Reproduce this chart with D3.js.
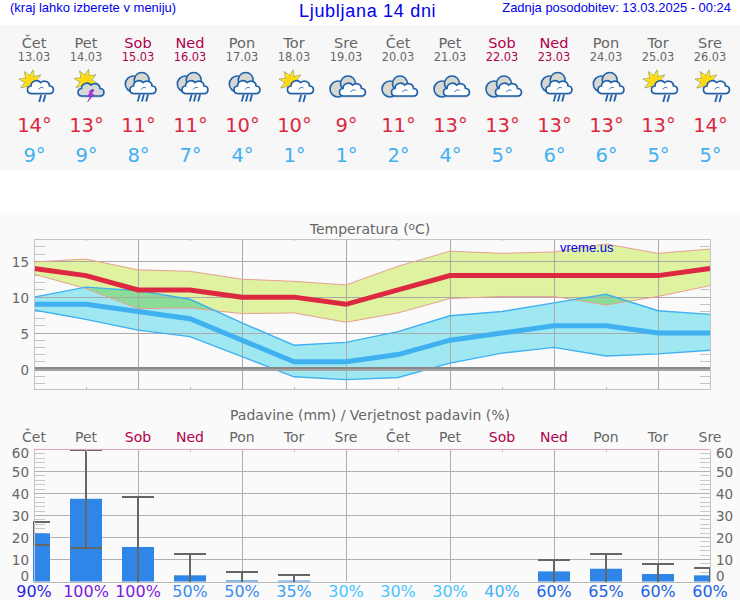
<!DOCTYPE html>
<html><head><meta charset="utf-8">
<script src="https://cdn.jsdelivr.net/npm/d3@7"></script>
<style>
html,body{margin:0;padding:0;background:#fff;overflow:hidden}
svg{display:block}
text{font-family:"DejaVu Sans",sans-serif}
.arial{font-family:"Liberation Sans",Arial,sans-serif}
line{shape-rendering:crispEdges}
</style></head><body>
<svg id="c" width="740" height="600"></svg>
<script>
const dayNames=["Čet","Pet","Sob","Ned","Pon","Tor","Sre","Čet","Pet","Sob","Ned","Pon","Tor","Sre"];
const dates=["13.03","14.03","15.03","16.03","17.03","18.03","19.03","20.03","21.03","22.03","23.03","24.03","25.03","26.03"];
const icons=["sunrain","sunstorm","cloudrain","cloudrain","cloudrain","sunrain","cloud","cloud","cloud","cloud","cloudrain","cloudrain","sunrain","sunrain"];
const tempHigh=[14,13,11,11,10,10,9,11,13,13,13,13,13,14];
const tempLow=[9,9,8,7,4,1,1,2,4,5,6,6,5,5];
const highUpper=[14.9,15.3,13.8,13.6,12.5,12.2,11.7,14.3,16.4,16.1,16.3,17.4,16.1,16.7];
const highLower=[13.2,11.2,8.4,8.5,7.7,7.8,6.5,7.8,9.8,10.1,10.1,8.9,10.1,11.6];
const lowUpper=[10.0,11.4,10.9,9.7,6.4,3.3,3.7,5.2,7.4,8.0,9.2,10.4,8.1,7.6];
const lowLower=[8.2,6.9,5.4,4.5,1.7,-1.1,-1.5,-1.2,0.8,2.2,3.0,1.8,2.1,2.6];
const precip=[21.9,37.6,15.7,2.8,0.5,0.4,0,0,0,0,4.6,5.8,3.4,2.8];
const precipHigh=[27.2,59.8,38.5,12.4,4.5,3,0,0,0,0,10,12.5,8,6];
const precipLow=[16.5,15.4,0,0,0,0,0,0,0,0,0,0,0,0];
const probability=[90,100,100,50,50,35,30,30,30,40,60,65,60,60];
const tempTicks=[0,5,10,15];
const precipTicks=[0,10,20,30,40,50,60];

const svg=d3.select("#c");
const idx=d3.range(dayNames.length);
const x=d3.scaleLinear().domain([0,13]).range([34,710]);
const yT=d3.scaleLinear().domain([-2.8,18.1]).range([389,239]);
const yP=d3.scaleLinear().domain([0,60]).range([581.5,449.5]);
const GREY="#666",WEEK="#b0004e";
const dayColor=i=>(dayNames[i]==="Sob"||dayNames[i]==="Ned")?WEEK:GREY;

// backgrounds
svg.append("rect").attr("x",0).attr("y",25).attr("width",740).attr("height",145).attr("fill","#f7f7f7");
svg.append("rect").attr("x",0).attr("y",215).attr("width",740).attr("height",385).attr("fill","#fafafa");

// top strip
svg.append("text").attr("class","arial").attr("x",10).attr("y",12).attr("font-size",13).attr("fill","#0000ee").text("(kraj lahko izberete v meniju)");
svg.append("text").attr("class","arial").attr("x",299).attr("y",16.5).attr("font-size",18).attr("letter-spacing",.7).attr("fill","#0000ee").text("Ljubljana 14 dni");
svg.append("text").attr("class","arial").attr("x",731).attr("y",12).attr("text-anchor","end").attr("font-size",12.95).attr("fill","#0000ee").text("Zadnja posodobitev: 13.03.2025 - 00:24");

// header columns
const col=svg.append("g").selectAll("g").data(idx).join("g");
col.append("text").attr("x",x).attr("y",48).attr("text-anchor","middle").attr("font-size",14.5).attr("fill",dayColor).text(i=>dayNames[i]);
col.append("text").attr("x",x).attr("y",60.5).attr("text-anchor","middle").attr("font-size",11.4).attr("fill",dayColor).text(i=>dates[i]);
col.append("text").attr("x",i=>x(i)+.5).attr("y",132).attr("text-anchor","middle").attr("font-size",19.5).attr("fill","#dc2840").text(i=>tempHigh[i]+"°");
col.append("text").attr("x",i=>x(i)+.5).attr("y",162).attr("text-anchor","middle").attr("font-size",19.5).attr("fill","#40b0f0").text(i=>tempLow[i]+"°");

// weather icons
const CLOUD="M-9,7 C-14,7 -14.5,0 -9.5,-.5 C-9.5,-5.5 -3,-7.5 0,-4 C3.5,-6.5 9,-5.5 9,-.5 C14,-.5 14.5,7 9,7 Z";
const BLUE="#1f62ac";
function sun(g,cx,cy){
  const s=g.append("g").attr("transform","translate("+cx+","+cy+")");
  d3.range(8).forEach(k=>{
    s.append("path").attr("d","M-2.5,-5 L0,-12 L2.5,-5 Z").attr("transform","rotate("+(k*45+12)+")")
     .attr("fill","#ffe81a").attr("stroke","#80805a").attr("stroke-width",.5);
  });
  s.append("circle").attr("r",6).attr("fill","#ffd814");
}
function rain(g,n,dx,top){
  d3.range(n).forEach(k=>{
    g.append("line").attr("x1",dx+k*4.2+1.2).attr("y1",top).attr("x2",dx+k*4.2-.8).attr("y2",top+7)
     .attr("stroke",BLUE).attr("stroke-width",1.8).style("shape-rendering","geometricPrecision");
  });
}
function cloudIcon(g,cx,cy,fill){
  const c=g.append("g").attr("transform","translate("+cx+","+cy+")");
  c.append("path").attr("d",CLOUD).attr("transform","translate(0,1.6)").attr("fill","#999").attr("opacity",.55);
  c.append("path").attr("d",CLOUD).attr("fill",fill||"#fff").attr("stroke",BLUE).attr("stroke-width",1.7);
  c.append("path").attr("d","M-2,3 C0,0.5 2,0.5 3,1.5").attr("fill","none").attr("stroke",BLUE).attr("stroke-width",1);
}
function doubleCloud(g,ax,ay,bx,by,cx,cy){
  g.append("circle").attr("cx",ax).attr("cy",ay).attr("r",8).attr("fill","#d8d8d0").attr("stroke",BLUE).attr("stroke-width",1.6);
  g.append("circle").attr("cx",bx).attr("cy",by).attr("r",7.5).attr("fill","#d8d8d0").attr("stroke",BLUE).attr("stroke-width",1.6);
  cloudIcon(g,cx,cy);
}
const ic=svg.append("g").selectAll("g").data(idx).join("g")
  .attr("transform",i=>"translate("+x(i)+",87)");
ic.each(function(i){
  const g=d3.select(this),t=icons[i];
  if(t==="sunrain"){sun(g,-3.3,-5.5);cloudIcon(g,6.5,-.5);rain(g,2,6,8);}
  else if(t==="sunstorm"){
    sun(g,0,-6);cloudIcon(g,5,2,"#d8d8d8");
    g.append("path").attr("d","M5,3 L2,9 L4.5,9 L1.5,15 L8,7.5 L5.5,7.5 L8,3 Z").attr("fill","#b030e0").attr("stroke","#7a20c0").attr("stroke-width",.5);
  }
  else if(t==="cloudrain"){doubleCloud(g,-4.7,-3,3.7,-7,5,-.5);rain(g,3,0.5,7.5);}
  else {doubleCloud(g,-8,2,2,-3.5,6.5,2);}
});

// ---- temperature chart
svg.append("text").attr("x",370).attr("y",234).attr("text-anchor","middle").attr("font-size",14).attr("fill",GREY)
  .html('Temperatura (<tspan dy="-4" font-size="10.5">o</tspan><tspan dy="4">C)</tspan>');

const T=svg.append("g");
const minorT=d3.range(-2,19).filter(v=>v%5!==0);
T.append("g").selectAll("line").data(minorT).join("line").attr("x1",34).attr("x2",45).attr("y1",yT).attr("y2",yT).attr("stroke","#c4c4c4");
T.append("g").selectAll("line").data(minorT).join("line").attr("x1",700).attr("x2",710).attr("y1",yT).attr("y2",yT).attr("stroke","#c4c4c4");

const band=(u,l)=>d3.area().x(i=>x(i)).y0(i=>yT(l[i])).y1(i=>yT(u[i]))(idx);
const line=(a,s)=>d3.line().x(i=>x(i)).y(i=>s(a[i]))(idx);
const bands=T.append("g").style("isolation","isolate");
bands.append("path").attr("d",band(highUpper,highLower)).attr("fill","#def2a0");
bands.append("path").attr("d",band(lowUpper,lowLower)).attr("fill","#9fe8f2").style("mix-blend-mode","multiply");

// grid over bands
T.append("g").selectAll("line").data(tempTicks.filter(v=>v)).join("line").attr("x1",34).attr("x2",710).attr("y1",yT).attr("y2",yT).attr("stroke","#aaa");
T.append("g").selectAll("line").data(idx.filter(i=>i%2===0&&i>0&&i<13)).join("line").attr("x1",x).attr("x2",x).attr("y1",239).attr("y2",389).attr("stroke","#aaa");
T.append("g").selectAll("line").data(idx.filter(i=>i%2===1&&i<13)).join("line").attr("x1",x).attr("x2",x).attr("y1",239).attr("y2",241).attr("stroke","#bbb");
T.append("g").selectAll("line").data(idx.filter(i=>i%2===1&&i<13)).join("line").attr("x1",x).attr("x2",x).attr("y1",387).attr("y2",389).attr("stroke","#bbb");

T.append("path").attr("d",line(highUpper,yT)).attr("fill","none").attr("stroke","#e8a090").attr("stroke-width",1);
T.append("path").attr("d",line(highLower,yT)).attr("fill","none").attr("stroke","#e8a090").attr("stroke-width",1);
T.append("path").attr("d",line(lowUpper,yT)).attr("fill","none").attr("stroke","#3fb0f0").attr("stroke-width",1.4);
T.append("path").attr("d",line(lowLower,yT)).attr("fill","none").attr("stroke","#3fb0f0").attr("stroke-width",1.4);

T.append("line").attr("x1",34).attr("x2",710).attr("y1",yT(0)).attr("y2",yT(0)).attr("stroke","#a4a4a4").attr("stroke-width",4);
T.append("line").attr("x1",34).attr("x2",710).attr("y1",yT(0)-1).attr("y2",yT(0)-1).attr("stroke","#888").attr("stroke-width",2);

T.append("path").attr("d",line(tempLow,yT)).attr("fill","none").attr("stroke","#3fb0f0").attr("stroke-width",5);
T.append("path").attr("d",line(tempHigh,yT)).attr("fill","none").attr("stroke","#dc2840").attr("stroke-width",5);

T.append("rect").attr("x",34).attr("y",239).attr("width",676).attr("height",150).attr("fill","none").attr("stroke","#c4c4c4").style("shape-rendering","crispEdges");
T.append("text").attr("class","arial").attr("x",560).attr("y",252).attr("font-size",13).attr("fill","#0000ee").text("vreme.us");

const axT=T.append("g").attr("transform","translate(29,1)").call(d3.axisLeft(yT).tickValues(tempTicks).tickSize(0).tickPadding(0));
axT.select(".domain").remove();
axT.selectAll("text").attr("font-size",13.5).attr("font-family","DejaVu Sans").attr("fill",GREY);

// ---- precipitation chart
svg.append("text").attr("x",370).attr("y",420).attr("text-anchor","middle").attr("font-size",14).attr("fill",GREY).text("Padavine (mm) / Verjetnost padavin (%)");
svg.append("g").selectAll("text").data(idx).join("text").attr("x",x).attr("y",442).attr("text-anchor","middle").attr("font-size",14).attr("fill",dayColor).text(i=>dayNames[i]);

const P=svg.append("g");
const clip=svg.append("clipPath").attr("id","pc").append("rect").attr("x",33).attr("y",449).attr("width",678).attr("height",133);
const minorP=d3.range(2,60,2).filter(v=>v%10!==0);
P.append("g").selectAll("line").data(minorP).join("line").attr("x1",34).attr("x2",45).attr("y1",yP).attr("y2",yP).attr("stroke","#c8c8c8");
P.append("g").selectAll("line").data(minorP).join("line").attr("x1",700).attr("x2",710).attr("y1",yP).attr("y2",yP).attr("stroke","#c8c8c8");
P.append("g").selectAll("line").data(precipTicks.filter(v=>v>0&&v<60)).join("line").attr("x1",34).attr("x2",710).attr("y1",yP).attr("y2",yP).attr("stroke","#b0b0b0");
P.append("g").selectAll("line").data(idx.filter(i=>i%2===0&&i>0&&i<13)).join("line").attr("x1",x).attr("x2",x).attr("y1",450).attr("y2",581).attr("stroke","#b0b0b0");

const pG=P.append("g").attr("clip-path","url(#pc)");
const bw=32;
const wet=idx.filter(i=>precip[i]>0);
pG.selectAll("rect.b").data(wet).join("rect").attr("class","b").attr("x",i=>x(i)-bw/2).attr("width",bw)
  .attr("y",i=>yP(precip[i])).attr("height",i=>yP(0)-yP(precip[i])).attr("fill","#2e86e8");
const EC="#666";
pG.selectAll("line.v").data(wet).join("line").attr("class","v").attr("x1",i=>x(i)).attr("x2",i=>x(i))
  .attr("y1",i=>yP(precipHigh[i])).attr("y2",i=>yP(precipLow[i])).attr("stroke",EC).attr("stroke-width",2);
pG.selectAll("line.h").data(wet).join("line").attr("class","h").attr("x1",i=>x(i)-bw/2).attr("x2",i=>x(i)+bw/2)
  .attr("y1",i=>yP(precipHigh[i])).attr("y2",i=>yP(precipHigh[i])).attr("stroke",EC).attr("stroke-width",2);
pG.selectAll("line.l").data(wet.filter(i=>precipLow[i]>0)).join("line").attr("class","l").attr("x1",i=>x(i)-bw/2).attr("x2",i=>x(i)+bw/2)
  .attr("y1",i=>yP(precipLow[i])).attr("y2",i=>yP(precipLow[i])).attr("stroke",EC).attr("stroke-width",2);

P.append("line").attr("x1",34).attr("x2",34).attr("y1",450).attr("y2",582).attr("stroke","#c4c4c4");
P.append("line").attr("x1",710).attr("x2",710).attr("y1",450).attr("y2",582).attr("stroke","#c4c4c4");
P.append("line").attr("x1",34).attr("x2",710).attr("y1",582).attr("y2",582).attr("stroke","#b8b8b8");
P.append("line").attr("x1",34).attr("x2",710).attr("y1",449.5).attr("y2",449.5).attr("stroke","#e8a0b8");
P.append("g").selectAll("line").data(idx.filter(i=>i%2===1&&i<13)).join("line").attr("x1",x).attr("x2",x).attr("y1",450).attr("y2",452).attr("stroke","#e8a0b8");

const pTickFmt=v=>v===60?4:v===0?-5:1;
[[29,"end"],[716,"start"]].forEach(([px,anchor])=>{
  P.append("g").selectAll("text").data(precipTicks).join("text").attr("x",px).attr("y",v=>yP(v)+pTickFmt(v)).attr("dy","0.36em")
   .attr("text-anchor",anchor).attr("font-size",13.5).attr("fill",GREY).text(v=>v);
});

const probColors={90:"#2a1fe0",100:"#7a20e0",50:"#3a8cec",35:"#3aa0f0",30:"#4cc4ff",40:"#44b4f8",60:"#2064e0",65:"#2064e0"};
svg.append("g").selectAll("text").data(idx).join("text").attr("x",x).attr("y",597).attr("text-anchor","middle")
  .attr("font-size",16).attr("fill",i=>probColors[probability[i]]).text(i=>probability[i]+"%");
</script></body></html>
